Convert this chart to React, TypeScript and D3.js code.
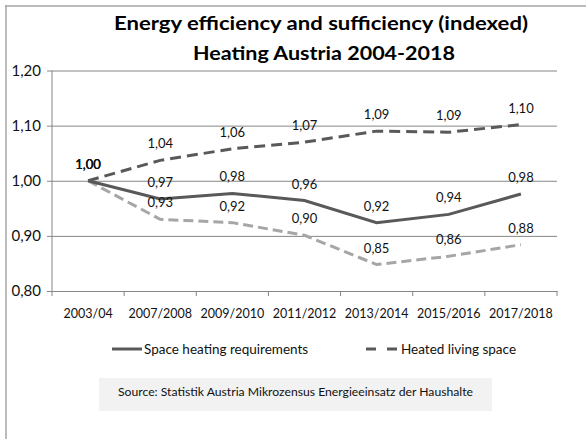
import React, { useEffect, useRef } from 'react';
import * as d3 from 'd3';

// chart values
const categories = ['2003/04', '2007/2008', '2009/2010', '2011/2012', '2013/2014', '2015/2016', '2017/2018'];
const spaceHeating = [1.0, 0.967, 0.977, 0.964, 0.924, 0.939, 0.976];
const heatedSpace = [1.0, 1.037, 1.058, 1.07, 1.09, 1.088, 1.102];
const perArea = [1.0, 0.93, 0.924, 0.901, 0.848, 0.863, 0.884];
const yTicks = [0.8, 0.9, 1.0, 1.1, 1.2];
const titleLines = ['Energy efficiency and sufficiency (indexed)', 'Heating Austria 2004-2018'];
const legendNames = ['Space heating requirements', 'Heated living space'];
const sourceText = 'Source: Statistik Austria Mikrozensus Energieeinsatz der Haushalte';

const W = 586;
const H = 439;
const FONT = 'Lato, "Open Sans", sans-serif';

const fmt = (v: number) => v.toFixed(2).replace('.', ',');

const App = () => {
  const ref = useRef<SVGSVGElement>(null);

  useEffect(() => {
    const svg = d3.select(ref.current);
    svg.selectAll('*').remove();

    const margin = { top: 70.5, right: 29, bottom: 148, left: 52 };
    const innerW = W - margin.left - margin.right;
    const innerH = H - margin.top - margin.bottom;

    const x = d3.scaleBand().domain(categories).range([0, innerW]);
    const y = d3.scaleLinear().domain([0.8, 1.2]).range([innerH, 0]);

    // outer frame (only top and left edges are visible)
    svg.append('line').attr('x1', 5).attr('x2', W).attr('y1', 6).attr('y2', 6)
      .attr('stroke', '#a6a6a6').attr('stroke-width', 1.5);
    svg.append('line').attr('x1', 6).attr('x2', 6).attr('y1', 5).attr('y2', H)
      .attr('stroke', '#a6a6a6').attr('stroke-width', 1.5);

    // title
    const title = svg.append('g').attr('font-family', FONT).attr('font-weight', 'bold')
      .attr('font-size', 19.5).attr('fill', '#000').attr('text-anchor', 'middle');
    title.append('text').attr('x', 321).attr('y', 30).attr('textLength', 414)
      .attr('lengthAdjust', 'spacingAndGlyphs').text(titleLines[0]);
    title.append('text').attr('x', 324).attr('y', 60).attr('textLength', 262)
      .attr('lengthAdjust', 'spacingAndGlyphs').text(titleLines[1]);

    const g = svg.append('g').attr('transform', `translate(${margin.left},${margin.top})`);

    // gridlines + y axis
    const yAxis = g.append('g').call(
      d3.axisLeft(y).tickValues(yTicks).tickSize(-innerW).tickPadding(11).tickFormat((d) => fmt(+d))
    );
    yAxis.select('.domain').remove();
    yAxis.selectAll('.tick line').attr('stroke', '#868686').attr('x1', -5);
    yAxis.selectAll('.tick text').attr('font-family', FONT).attr('font-size', 15).attr('fill', '#111');
    g.append('line').attr('x1', 0).attr('x2', 0).attr('y1', 0).attr('y2', innerH).attr('stroke', '#868686');

    // x axis
    const xAxis = g.append('g').attr('transform', `translate(0,${innerH})`)
      .call(d3.axisBottom(x).tickSize(0).tickPadding(18));
    xAxis.select('.domain').attr('stroke', '#868686');
    xAxis.selectAll('.tick text').attr('font-family', FONT).attr('font-size', 12.5).attr('fill', '#111');
    const bounds = categories.map((c) => x(c) as number).concat([innerW]);
    g.append('g').selectAll('line').data(bounds).join('line')
      .attr('x1', (d) => d).attr('x2', (d) => d).attr('y1', innerH).attr('y2', innerH + 5)
      .attr('stroke', '#868686');

    const cx = (i: number) => (x(categories[i]) as number) + x.bandwidth() / 2;
    const line = d3.line<number>().x((_, i) => cx(i)).y((d) => y(d));

    const series = [
      { values: perArea, color: '#a6a6a6', dash: '10 5' },
      { values: heatedSpace, color: '#595959', dash: '11 6' },
      { values: spaceHeating, color: '#595959', dash: null as string | null },
    ];

    series.forEach((s) => {
      g.append('path').datum(s.values).attr('d', line).attr('fill', 'none')
        .attr('stroke', s.color).attr('stroke-width', 3)
        .attr('stroke-dasharray', s.dash);
    });

    series.forEach((s) => {
      g.append('g').selectAll('text').data(s.values).join('text')
        .attr('x', (_, i) => cx(i)).attr('y', (d) => y(d) - 12)
        .attr('text-anchor', 'middle').attr('font-family', FONT).attr('font-size', 13)
        .attr('fill', '#111').text((d) => fmt(d));
    });

    // legend
    const lg = svg.append('g').attr('font-family', FONT).attr('font-size', 13.5).attr('fill', '#111');
    lg.append('line').attr('x1', 112).attr('x2', 142).attr('y1', 349).attr('y2', 349)
      .attr('stroke', '#595959').attr('stroke-width', 3);
    lg.append('text').attr('x', 144).attr('y', 354).text(legendNames[0]);
    lg.append('line').attr('x1', 366).attr('x2', 398).attr('y1', 349).attr('y2', 349)
      .attr('stroke', '#595959').attr('stroke-width', 3).attr('stroke-dasharray', '10 11');
    lg.append('text').attr('x', 401).attr('y', 354).text(legendNames[1]);

    // source box
    svg.append('rect').attr('x', 99).attr('y', 378).attr('width', 393).attr('height', 33).attr('fill', '#f2f2f2');
    svg.append('text').attr('x', 295.5).attr('y', 395.5).attr('text-anchor', 'middle')
      .attr('font-family', FONT).attr('font-size', 12.2).attr('fill', '#111').text(sourceText);
  }, []);

  return (
    <svg ref={ref} width={W} height={H} style={{ position: 'absolute', left: 0, top: 0, background: '#fff' }} />
  );
};

export default App;
